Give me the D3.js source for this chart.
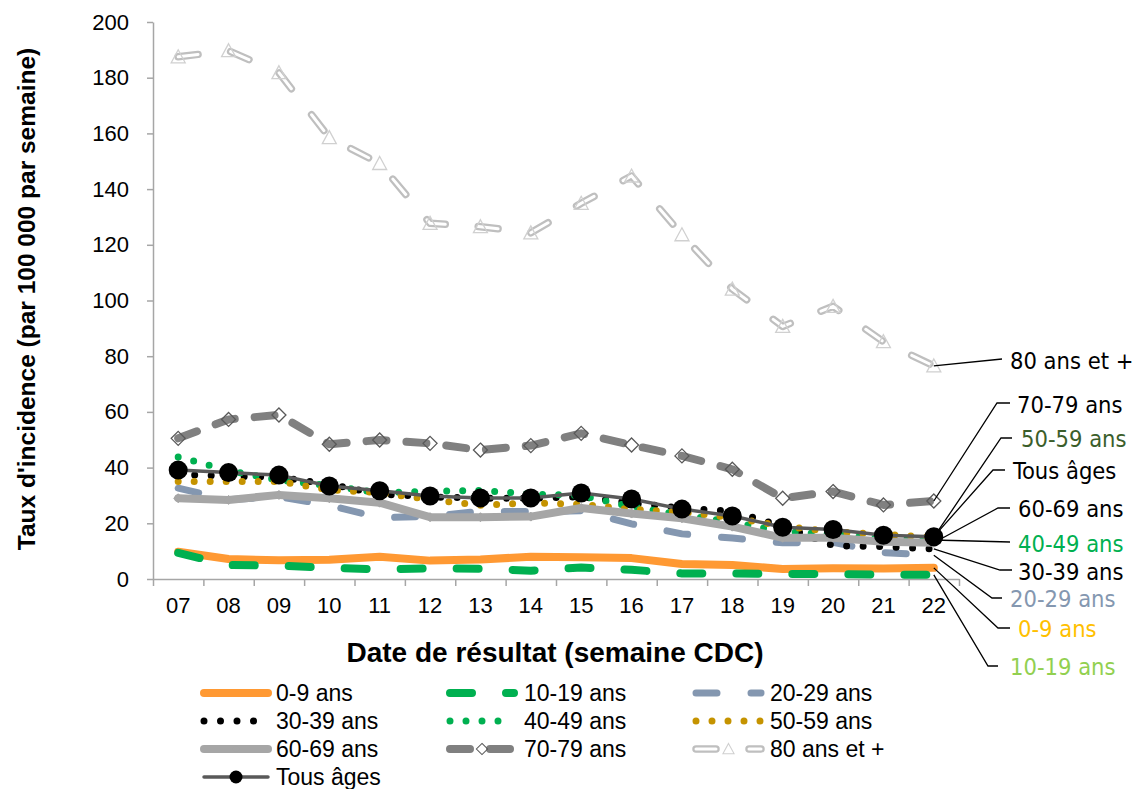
<!DOCTYPE html>
<html><head><meta charset="utf-8">
<script src="https://cdn.jsdelivr.net/npm/d3@7"></script>
<style>
body{margin:0;background:#fff}
svg{display:block}
text{font-family:"Liberation Sans",Arial,sans-serif}
.lab{font-family:"DejaVu Sans Condensed","DejaVu Sans",sans-serif;font-stretch:condensed}
</style>
</head><body>
<svg id="c" width="1142" height="789"></svg>
<script>
const weeks = ["07","08","09","10","11","12","13","14","15","16","17","18","19","20","21","22"];
const yTicks = [0,20,40,60,80,100,120,140,160,180,200];
const s0_9   = [9.8, 7.2, 6.7, 6.9, 8.0, 6.6, 7.0, 8.0, 7.8, 7.5, 5.4, 5.0, 3.6, 3.9, 3.8, 4.0];
const s10_19 = [9.4, 5.0, 4.8, 4.0, 3.5, 3.8, 3.7, 3.0, 4.1, 3.3, 2.0, 2.0, 1.8, 1.8, 1.6, 1.5];
const s20_29 = [32.6, 28.5, 29.5, 26.5, 22.0, 22.5, 24.3, 24.2, 24.5, 19.8, 16.2, 14.7, 13.0, 13.2, 9.5, 8.5];
const s30_39 = [37.5, 37.0, 36.5, 34.0, 30.5, 29.5, 29.0, 29.0, 29.5, 27.3, 25.5, 24.3, 19.0, 12.0, 11.6, 10.8];
const s40_49 = [43.8, 39.0, 35.5, 33.5, 31.0, 31.5, 31.8, 30.5, 30.0, 26.0, 23.0, 20.5, 17.0, 16.0, 14.5, 14.0];
const s50_59 = [35.0, 35.0, 35.0, 32.0, 31.0, 28.5, 26.5, 27.3, 26.8, 25.0, 24.0, 22.0, 19.0, 17.0, 16.0, 15.0];
const s60_69 = [29.0, 28.4, 30.2, 29.0, 27.4, 22.2, 22.2, 22.4, 25.5, 23.5, 21.8, 18.8, 14.8, 14.8, 13.4, 13.0];
const s70_79 = [50.5, 57.3, 58.9, 48.4, 49.9, 48.7, 46.3, 47.9, 52.3, 48.1, 44.2, 39.4, 29.0, 31.4, 26.6, 28.0];
const s80    = [187.5, 189.7, 181.8, 158.5, 149.2, 127.7, 126.5, 124.3, 134.9, 144.7, 123.6, 104.1, 90.7, 97.9, 85.2, 76.5];
const sTous  = [39.1, 38.2, 37.3, 33.4, 31.7, 29.8, 29.1, 29.1, 30.9, 28.7, 25.1, 22.6, 18.6, 17.8, 15.7, 15.2];
const seriesNames = ["0-9 ans","10-19 ans","20-29 ans","30-39 ans","40-49 ans","50-59 ans","60-69 ans","70-79 ans","80 ans et +","Tous âges"];
const xTitle = "Date de résultat (semaine CDC)";
const yTitle = "Taux d'incidence (par 100 000 par semaine)";

const values = [s0_9,s10_19,s20_29,s30_39,s40_49,s50_59,s60_69,s70_79,s80,sTous];
const styles = [
  {stroke:"#FF9933", w:8},
  {stroke:"#00B050", w:8, dash:"22,34"},
  {stroke:"#8497B0", w:7, dash:"21,34"},
  {stroke:"#000000", w:7, dash:"0,16.5"},
  {stroke:"#00B050", w:7, dash:"0,16"},
  {stroke:"#C59300", w:7, dash:"0,16"},
  {stroke:"#A6A6A6", w:8, marker:"smalldiamond"},
  {stroke:"#808080", w:8, dash:"20,20", marker:"diamond"},
  {stroke:"#BFBFBF", w:7.5, dash:"20,33", inner:true, marker:"triangle"},
  {stroke:"#595959", w:3.5, marker:"circle"}
];
const series = seriesNames.map((n,i)=>({name:n, vals:values[i], st:styles[i]}));

const svg = d3.select("#c");
const x = d3.scaleBand().domain(weeks).range([153, 959]);
const y = d3.scaleLinear().domain([0,200]).range([579, 22]);
const cx = w => x(w) + x.bandwidth()/2;
const axisColor = "#A6A6A6";

// Y axis
const ya = svg.append("g").attr("transform","translate(153,0)")
  .call(d3.axisLeft(y).tickValues(yTicks).tickSize(6).tickSizeOuter(0).tickPadding(18));
ya.selectAll("path,line").attr("stroke",axisColor).attr("stroke-width",1.5);
ya.selectAll("text").attr("font-size",22).attr("fill","#000").style("font-family",'"Liberation Sans",Arial,sans-serif');

// X axis boundary ticks
const xb = d3.scaleLinear().domain([0,weeks.length]).range([153,959]);
const xa = svg.append("g").attr("transform","translate(0,579)")
  .call(d3.axisBottom(xb).tickValues(d3.range(weeks.length+1)).tickSize(7).tickSizeOuter(0).tickFormat(""));
xa.selectAll("path,line").attr("stroke",axisColor).attr("stroke-width",1.5);
const xl = svg.append("g").attr("transform","translate(0,579)")
  .call(d3.axisBottom(x).tickSize(0).tickPadding(18));
xl.select("path").remove();
xl.selectAll("text").attr("font-size",22).attr("fill","#000").style("font-family",'"Liberation Sans",Arial,sans-serif');

// Titles
svg.append("text").attr("x",555).attr("y",662).attr("text-anchor","middle")
  .attr("font-size",28).attr("font-weight","bold").text(xTitle);
svg.append("text").attr("transform","translate(35,299) rotate(-90)").attr("text-anchor","middle")
  .attr("font-size",24.5).attr("font-weight","bold").text(yTitle);

const line = d3.line().x((d,i)=>cx(weeks[i])).y(d=>y(d));

function markerPath(type){
  if(type==="diamond") return "M0,-7L7,0L0,7L-7,0Z";
  if(type==="smalldiamond") return "M0,-4.5L4.5,0L0,4.5L-4.5,0Z";
  if(type==="triangle") return "M0,-7L7,6L-7,6Z";
  return null;
}
function drawMarker(g, type, px, py, small){
  const k = small ? 0.8 : 1;
  if(type==="circle"){
    g.append("circle").attr("cx",px).attr("cy",py).attr("r",small?6.5:9.5).attr("fill","#000");
  } else if(type==="smalldiamond"){
    g.append("path").attr("d",markerPath(type)).attr("transform",`translate(${px},${py}) scale(${k})`)
      .attr("fill","#A6A6A6").attr("stroke","#A6A6A6");
  } else if(type==="diamond"){
    g.append("path").attr("d",markerPath(type)).attr("transform",`translate(${px},${py}) scale(${k})`)
      .attr("fill","none").attr("stroke","#595959").attr("stroke-width",1.3);
  } else if(type==="triangle"){
    g.append("path").attr("d",markerPath(type)).attr("transform",`translate(${px},${py}) scale(${k})`)
      .attr("fill","none").attr("stroke","#D0D0D0").attr("stroke-width",1.3);
  }
}
function strokeLine(sel, st){
  sel.attr("fill","none").attr("stroke",st.stroke).attr("stroke-width",st.w)
    .attr("stroke-linecap","round").attr("stroke-linejoin","round");
  if(st.dash) sel.attr("stroke-dasharray",st.dash);
  return sel;
}

const plot = svg.append("g");
series.forEach(s=>{
  const g = plot.append("g");
  strokeLine(g.append("path").attr("d",line(s.vals)), s.st);
  if(s.st.inner){
    g.append("path").attr("d",line(s.vals)).attr("fill","none").attr("stroke","#fff")
      .attr("stroke-width",3).attr("stroke-linecap","round").attr("stroke-dasharray",s.st.dash);
  }
  if(s.st.marker){
    s.vals.forEach((v,i)=>drawMarker(g, s.st.marker, cx(weeks[i]), y(v), false));
  }
});

// Right side labels with leaders
const last = weeks.length-1;
const labelInfo = [
  {i:8, ty:361, tx:1010, elbow:[1002,359], end:[1002,359], color:"#000"},
  {i:7, ty:405, tx:1017, elbow:[997,403], end:[1010,403], color:"#000"},
  {i:5, ty:439, tx:1021, elbow:[1001,438], end:[1012,438], color:"#3B5E2B"},
  {i:9, ty:471, tx:1013, elbow:[993,470], end:[1005,470], color:"#000"},
  {i:6, ty:509, tx:1018, elbow:[998,508], end:[1010,508], color:"#000"},
  {i:4, ty:544, tx:1018, elbow:[1010,542], end:[1010,542], color:"#00B050"},
  {i:3, ty:572, tx:1018, elbow:[1000,570], end:[1012,570], color:"#000"},
  {i:2, ty:599, tx:1010, elbow:[992,598], end:[1002,598], color:"#8497B0"},
  {i:0, ty:629, tx:1018, elbow:[998,628], end:[1010,628], color:"#FFC000"},
  {i:1, ty:667, tx:1010, elbow:[988,666], end:[998,666], color:"#92D050"}
];
const lg = svg.append("g");
labelInfo.forEach(L=>{
  const s = series[L.i];
  const px = cx(weeks[last]), py = y(s.vals[last]);
  lg.append("polyline").attr("points",`${px},${py} ${L.elbow[0]},${L.elbow[1]} ${L.end[0]},${L.end[1]}`)
    .attr("fill","none").attr("stroke","#000").attr("stroke-width",1.3);
  lg.append("text").attr("class","lab").attr("x",L.tx).attr("y",L.ty).attr("dy","0.36em")
    .attr("font-size",23.5).attr("fill",L.color).text(s.name);
});

// Legend
const colX = [[200,272,276],[446,518,524],[692,765,770]];
const rowY = [693,721,749,777];
const leg = svg.append("g");
series.forEach((s,k)=>{
  const r = Math.floor(k/3), c = k%3;
  const [x0,x1,tx] = colX[c];
  const yy = rowY[r];
  const st = s.st;
  const g = leg.append("g");
  strokeLine(g.append("line").attr("x1",x0+4).attr("x2",x1-4).attr("y1",yy).attr("y2",yy), st);
  if(st.inner){
    g.append("line").attr("x1",x0+4).attr("x2",x1-4).attr("y1",yy).attr("y2",yy)
      .attr("stroke","#fff").attr("stroke-width",3).attr("stroke-linecap","round").attr("stroke-dasharray",st.dash);
  }
  if(st.marker) drawMarker(g, st.marker, (x0+x1)/2, yy, true);
  g.append("text").attr("x",tx).attr("y",yy).attr("dy","0.36em").attr("font-size",23).attr("fill","#000").text(s.name);
});
</script>
</body></html>
